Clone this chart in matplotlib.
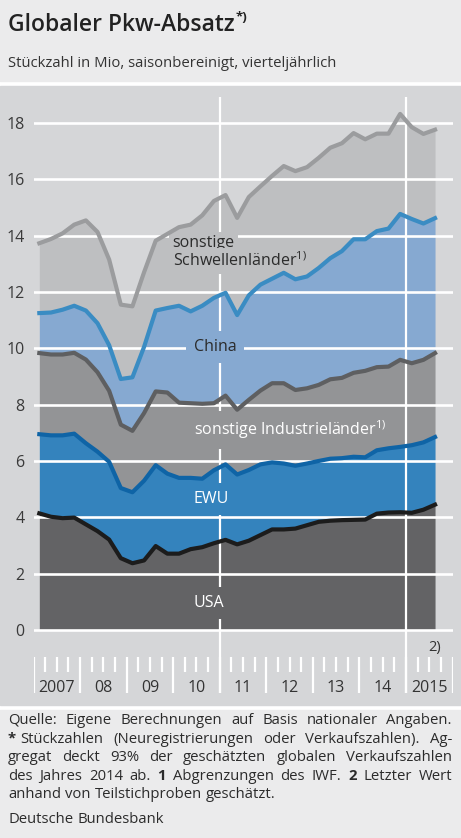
import matplotlib
matplotlib.use('Agg')
import matplotlib.pyplot as plt
import numpy as np
from matplotlib.patches import Rectangle

plt.rcParams['font.family'] = ['Open Sans', 'DejaVu Sans']
plt.rcParams['mathtext.fontset'] = 'custom'
plt.rcParams['mathtext.rm'] = 'Open Sans'
plt.rcParams['mathtext.bf'] = 'Open Sans:bold'

W, H = 461, 838

# Quartale 2007 Q1 bis 2015 Q3, Werte kumuliert (Oberkante jeder Fläche), Mio Stück
quarters = np.arange(35)
year_labels = ['2007', '08', '09', '10', '11', '12', '13', '14', '2015']

usa = [4.14, 4.02, 3.97, 3.99, 3.75, 3.51, 3.21, 2.55, 2.37, 2.47, 2.98, 2.71,
       2.71, 2.87, 2.94, 3.08, 3.20, 3.04, 3.17, 3.37, 3.57, 3.57, 3.60, 3.72,
       3.84, 3.88, 3.90, 3.91, 3.92, 4.13, 4.17, 4.18, 4.16, 4.27, 4.45]
ewu = [6.95, 6.91, 6.91, 6.97, 6.63, 6.33, 5.97, 5.04, 4.89, 5.30, 5.85, 5.55,
       5.40, 5.40, 5.37, 5.67, 5.88, 5.52, 5.68, 5.88, 5.95, 5.91, 5.83, 5.91,
       6.00, 6.08, 6.10, 6.15, 6.13, 6.38, 6.45, 6.50, 6.56, 6.66, 6.85]
industrie = [9.83, 9.78, 9.78, 9.84, 9.60, 9.15, 8.49, 7.29, 7.07, 7.70, 8.47, 8.43,
             8.07, 8.05, 8.03, 8.05, 8.32, 7.82, 8.17, 8.50, 8.76, 8.76, 8.52, 8.58,
             8.70, 8.90, 8.95, 9.13, 9.20, 9.33, 9.35, 9.59, 9.47, 9.59, 9.83]
china = [11.25, 11.27, 11.37, 11.51, 11.34, 10.89, 10.11, 8.91, 8.97, 10.05, 11.34, 11.43,
         11.51, 11.31, 11.51, 11.79, 11.97, 11.18, 11.88, 12.26, 12.47, 12.68, 12.45, 12.55,
         12.85, 13.20, 13.45, 13.87, 13.87, 14.16, 14.25, 14.77, 14.59, 14.43, 14.62]
schwellen = [13.73, 13.88, 14.08, 14.39, 14.54, 14.13, 13.15, 11.55, 11.49, 12.70, 13.82, 14.06,
             14.30, 14.39, 14.72, 15.23, 15.44, 14.63, 15.37, 15.75, 16.12, 16.47, 16.29, 16.43,
             16.76, 17.12, 17.28, 17.64, 17.42, 17.62, 17.62, 18.32, 17.85, 17.61, 17.76]

light_bg = '#ebebec'
chart_bg = '#d5d6d8'
text_col = '#2b2b2b'


def fx(px):
    return px / W


def fy(py):
    return 1 - py / H


fig = plt.figure(figsize=(W / 100, H / 100), dpi=100, facecolor='white')
renderer = fig.canvas.get_renderer()
fig.patches.append(Rectangle((0, fy(81)), 1, 81 / H, transform=fig.transFigure,
                             color=light_bg, zorder=-5))
fig.patches.append(Rectangle((0, fy(705)), 1, (705 - 86) / H, transform=fig.transFigure,
                             color=chart_bg, zorder=-5))
fig.patches.append(Rectangle((0, 0), 1, (H - 710) / H, transform=fig.transFigure,
                             color=light_bg, zorder=-5))

# Kopf
title = fig.text(fx(8), fy(31), 'Globaler Pkw-Absatz', fontsize=16.5, color='#222222',
                 va='baseline', fontweight='semibold')
tb = title.get_window_extent(renderer)
fig.text(fx(tb.x1 + 1), fy(21), '*)', fontsize=9.5, color='#222222', va='baseline',
         fontweight='bold')
fig.text(fx(8), fy(67), 'Stückzahl in Mio, saisonbereinigt, vierteljährlich',
         fontsize=10.7, color='#333333', va='baseline')

# Diagramm
y0, unit = 630.0, 28.17
ax = fig.add_axes([fx(33.5), fy(700), (452.5 - 33.5) / W, (700 - 97) / H])
ax.set_xlim(-0.5, 35.5)
ax.set_ylim((y0 - 700) / unit, (y0 - 97) / unit)
ax.patch.set_alpha(0)
for s in ax.spines.values():
    s.set_visible(False)

layers = [
    (np.zeros(35), usa, '#636365', '#1c1c1c'),
    (usa, ewu, '#3483bd', '#0f64a6'),
    (ewu, industrie, '#939496', '#5e5f61'),
    (industrie, china, '#86a9d1', '#3a8cc3'),
    (china, schwellen, '#bebfc1', '#9b9c9e'),
]
for low, high, fc, lc in layers:
    ax.fill_between(quarters, low, high, color=fc, lw=0, zorder=1)
for low, high, fc, lc in layers:
    ax.plot(quarters, high, color=lc, lw=3.0, zorder=3, solid_joinstyle='round')

for v in range(0, 19, 2):
    ax.axhline(v, color='white', lw=1.9, zorder=2)

tick_top = (y0 - 657) / unit
long_bot = (y0 - 693) / unit
short_bot = (y0 - 672) / unit
top = (y0 - 97) / unit
ax.vlines([15.5, 31.5], long_bot, top, color='white', lw=1.6, zorder=2)
ax.vlines([-0.5 + 4 * k for k in range(10)], tick_top, long_bot, color='white', lw=1.6, zorder=2)
ax.vlines([-0.5 + 4 * k + j for k in range(9) for j in (1, 2, 3)], tick_top, short_bot,
          color='white', lw=1.6, zorder=2)
for k, lab in enumerate(year_labels):
    ax.text(1.5 + 4 * k, (y0 - 688) / unit, lab, ha='center', va='center',
            fontsize=11.5, color='#333333')
ax.text(34, (y0 - 647) / unit, '2)', ha='center', va='center', fontsize=10.5, color='#333333')

ax.set_xticks([])
ax.set_yticks(range(0, 19, 2))
ax.tick_params(axis='y', length=0, pad=6.5, labelsize=11.5, labelcolor='#3a3a3a')


# Flächenbeschriftungen (über dem Gitter, unter den Linien)
def label(x, ypx, s, col, bg, pad=0.35):
    ax.text(x, (y0 - ypx) / unit, s, ha='left', va='center', fontsize=11.5, color=col,
            zorder=2.5, bbox=dict(boxstyle='square,pad=%s' % pad, fc=bg, ec='none'))


xl = (193.5 - 33.5) / 11.625 - 0.5
xs = (172.5 - 33.5) / 11.625 - 0.5
label(xs, 243, 'sonstige', text_col, '#bebfc1', 0.2)
label(xs, 261, r'Schwellenländer$^{\mathrm{1)}}$', text_col, '#bebfc1', 0.2)
label(xl, 347, 'China', text_col, '#86a9d1', 0.5)
label(xl, 430, r'sonstige Industrieländer$^{\mathrm{1)}}$', 'white', '#939496', 0.5)
label(xl, 499, 'EWU', 'white', '#3483bd', 0.5)
label(xl, 603, 'USA', 'white', '#636365', 0.5)

# Fußnote, Blocksatz
foot_size = 10.7


def foot_line(tokens, ypx, justify=True):
    groups = []
    widths = []
    for tok in tokens:
        parts = []
        w = 0
        for j, (s, wt) in enumerate(tok):
            t = fig.text(0, fy(ypx), s, fontsize=foot_size, fontweight=wt,
                         color='#2b2b2b', va='baseline')
            bb = t.get_window_extent(renderer)
            parts.append((t, w))
            w += bb.width + (4 if j < len(tok) - 1 else 0)
        groups.append(parts)
        widths.append(w)
    if justify and len(tokens) > 1:
        gap = (452 - 8 - sum(widths)) / (len(tokens) - 1)
    else:
        gap = 4.0
    x = 8
    for parts, w in zip(groups, widths):
        for t, off in parts:
            t.set_x(fx(x + off))
        x += w + gap


def words(s, wt='normal'):
    return [[(w, wt)] for w in s.split()]


foot_line(words('Quelle: Eigene Berechnungen auf Basis nationaler Angaben.'), 724)
foot_line([[('*', 'bold'), ('Stückzahlen', 'normal')]]
          + words('(Neuregistrierungen oder Verkaufszahlen). Ag-'), 742.5)
foot_line(words('gregat deckt 93% der geschätzten globalen Verkaufszahlen'), 761)
foot_line(words('des Jahres 2014 ab.') + [[('1', 'bold')]] + words('Abgrenzungen des IWF.')
          + [[('2', 'bold')]] + words('Letzter Wert'), 779.5)
foot_line(words('anhand von Teilstichproben geschätzt.'), 798, justify=False)
foot_line(words('Deutsche Bundesbank'), 823, justify=False)

fig.savefig('out.png', dpi=100, facecolor='white')
